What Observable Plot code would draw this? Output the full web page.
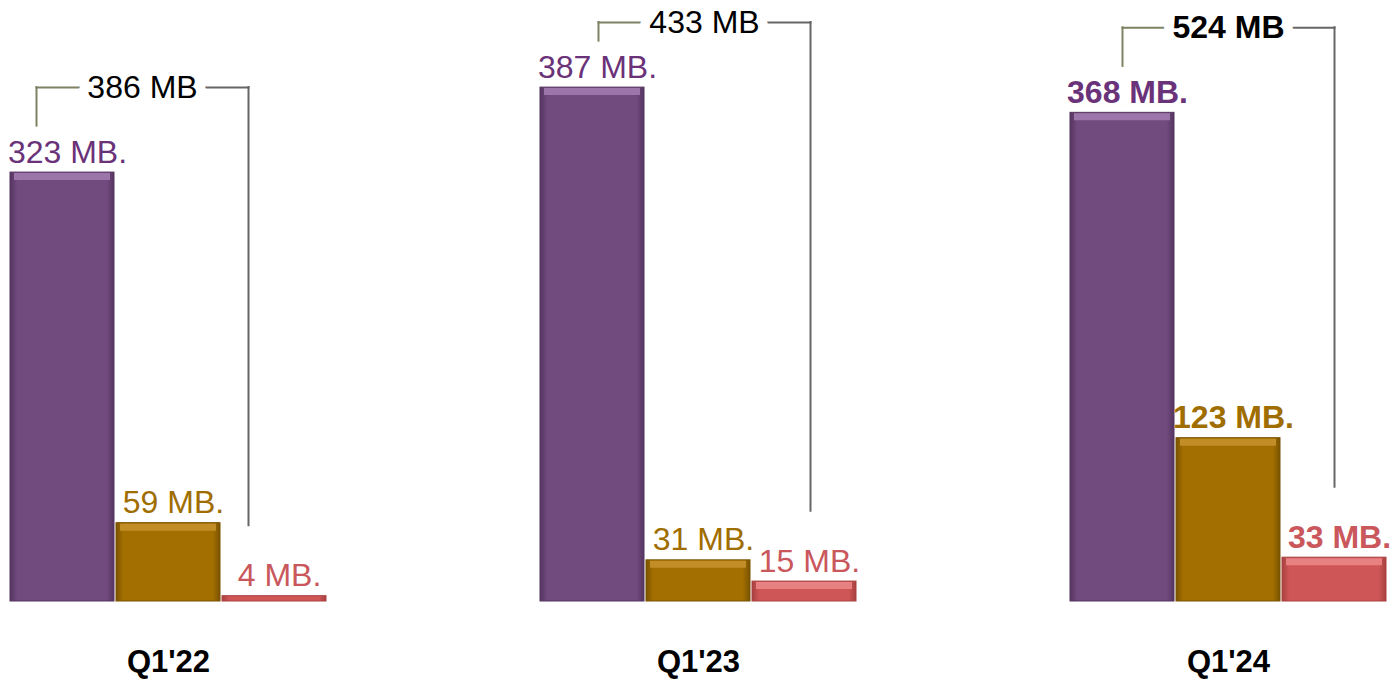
<!DOCTYPE html>
<html><head><meta charset="utf-8">
<script src="https://cdn.jsdelivr.net/npm/d3@7"></script>
<script src="https://cdn.jsdelivr.net/npm/@observablehq/plot@0.6"></script>
<style>body{margin:0;background:#fff}</style>
</head><body><div id="chart"></div>
<script>
// ---- data ----
const quarters = ["Q1'22", "Q1'23", "Q1'24"];
const seriesKeys = ["purple", "gold", "red"];
const purpleValues = [323, 387, 368];
const goldValues = [59, 31, 123];
const redValues = [4, 15, 33];
const totals = [386, 433, 524];
const barUnit = " MB.";
const totalUnit = " MB";
const boldQuarters = ["Q1'24"];

// ---- styles ----
const baseColor = {purple: "#714A7E", gold: "#A36F00", red: "#CF5656"};
const edgeColor = {purple: "#553560", gold: "#7A5300", red: "#A84040"};
const lightColor = {purple: "#9C76AA", gold: "#C28C26", red: "#E88282"};
const textColor = {purple: "#6A3279", gold: "#A06D00", red: "#C9575B"};
const bracketShift = {"Q1'22": -26, "Q1'23": 6, "Q1'24": 0};
const font = "'Liberation Sans', Arial, sans-serif";

const valuesBySeries = {purple: purpleValues, gold: goldValues, red: redValues};
const bars = quarters.flatMap((q, i) => seriesKeys.map(s => ({q, s, v: valuesBySeries[s][i]})));
const brackets = quarters.map((q, i) => ({
  q, total: totals[i], p: purpleValues[i], r: redValues[i],
  level: Math.min(purpleValues[i] + 64, 436)
}));

function defs() {
  const ns = "http://www.w3.org/2000/svg";
  const d = document.createElementNS(ns, "defs");
  for (const s of seriesKeys) {
    const g = document.createElementNS(ns, "linearGradient");
    g.setAttribute("id", "grad-" + s);
    g.setAttribute("x1", "0"); g.setAttribute("x2", "1");
    g.setAttribute("y1", "0"); g.setAttribute("y2", "0");
    [[0, edgeColor[s]], [0.07, baseColor[s]], [0.93, baseColor[s]], [1, edgeColor[s]]].forEach(([o, c]) => {
      const st = document.createElementNS(ns, "stop");
      st.setAttribute("offset", o); st.setAttribute("stop-color", c);
      g.appendChild(st);
    });
    d.appendChild(g);
  }
  return d;
}

const marks = [defs];
for (const s of seriesKeys) {
  const data = bars.filter(d => d.s === s);
  marks.push(Plot.barY(data, {fx: "q", x: "s", y: "v", fill: `url(#grad-${s})`, stroke: edgeColor[s], strokeWidth: 1}));
  marks.push(Plot.tickY(data.filter(d => d.v > 8), {fx: "q", x: "s", y: "v", stroke: lightColor[s], strokeWidth: 7, dy: 4, insetLeft: 4, insetRight: 4}));
  for (const bold of [false, true]) {
    marks.push(Plot.text(data.filter(d => boldQuarters.includes(d.q) === bold), {
      fx: "q", x: "s", y: "v", text: d => d.v + barUnit, fill: textColor[s],
      fontSize: 32, fontWeight: bold ? "bold" : "normal", lineAnchor: "bottom", dy: -10, dx: 5
    }));
  }
}
for (const b of brackets) {
  const dx = bracketShift[b.q];
  const bold = boldQuarters.includes(b.q);
  marks.push(
    Plot.ruleX([b], {fx: "q", x: () => "purple", y1: d => d.p + 35, y2: "level", stroke: "#7E8262", strokeWidth: 2, dx, strokeLinecap: "square"}),
    Plot.ruleX([b], {fx: "q", x: () => "red", y1: d => d.r + 53, y2: "level", stroke: "#666666", strokeWidth: 2, dx, strokeLinecap: "square"}),
    Plot.link([b], {fx: "q", x1: () => "purple", x2: () => "gold", y1: "level", y2: "level", stroke: "#7E8262", strokeWidth: 2, dx, strokeLinecap: "square"}),
    Plot.link([b], {fx: "q", x1: () => "gold", x2: () => "red", y1: "level", y2: "level", stroke: "#666666", strokeWidth: 2, dx, strokeLinecap: "square"}),
    Plot.text([b], {fx: "q", x: () => "gold", y: "level", text: d => d.total + totalUnit, fill: "#000",
      stroke: "white", strokeWidth: 20, fontSize: 32, fontWeight: bold ? "bold" : "normal", dx})
  );
}
marks.push(Plot.text(quarters, {fx: d => d, text: d => d, frameAnchor: "bottom", lineAnchor: "middle", dy: 61, fontSize: 31, fontWeight: "bold", fill: "#000"}));

const chart = Plot.plot({
  width: 1396, height: 679,
  marginLeft: 8, marginRight: 8, marginTop: 0, marginBottom: 78,
  style: {fontFamily: font, background: "white", overflow: "visible"},
  fx: {domain: quarters, paddingInner: 0.4, paddingOuter: 0, axis: null, label: null},
  x: {domain: seriesKeys, paddingInner: 0.02, paddingOuter: 0, axis: null, label: null},
  y: {domain: [0, 452.6], axis: null, label: null},
  marks
});
document.getElementById("chart").appendChild(chart);
</script>
</body></html>
